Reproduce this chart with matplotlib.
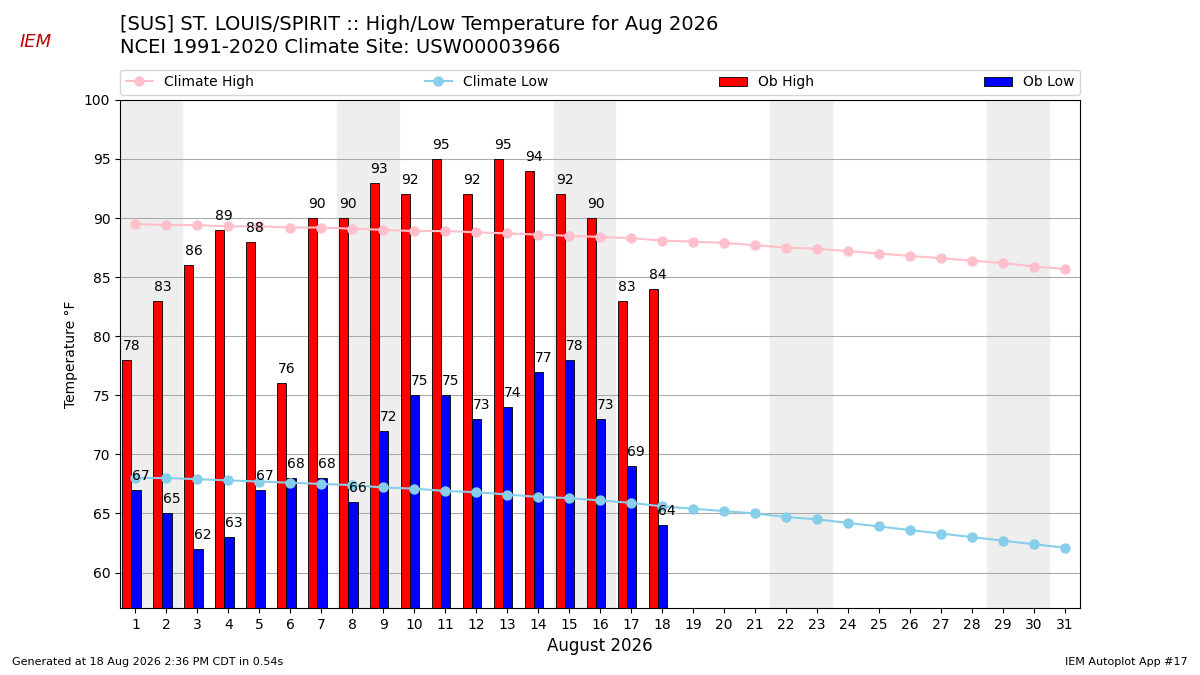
import matplotlib
matplotlib.use("Agg")
from matplotlib import pyplot as plt

days = list(range(1, 32))
ob_high = [78, 83, 86, 89, 88, 76, 90, 90, 93, 92, 95, 92, 95, 94, 92, 90, 83, 84]
ob_low = [67, 65, 62, 63, 67, 68, 68, 66, 72, 75, 75, 73, 74, 77, 78, 73, 69, 64]
clim_high = [89.5, 89.4, 89.4, 89.3, 89.3, 89.2, 89.2, 89.1, 89.0, 88.9, 88.9, 88.8,
             88.7, 88.6, 88.5, 88.4, 88.3, 88.1, 88.0, 87.9, 87.7, 87.5, 87.4, 87.2,
             87.0, 86.8, 86.6, 86.4, 86.2, 85.9, 85.7]
clim_low = [68.0, 68.0, 67.9, 67.8, 67.7, 67.6, 67.5, 67.4, 67.2, 67.1, 66.9, 66.8,
            66.6, 66.4, 66.3, 66.1, 65.9, 65.6, 65.4, 65.2, 65.0, 64.7, 64.5, 64.2,
            63.9, 63.6, 63.3, 63.0, 62.7, 62.4, 62.1]
weekends = [1, 8, 15, 22, 29]

fig = plt.figure(figsize=(12, 6.75), dpi=100)
ax = fig.add_axes([0.1, 0.0993, 0.8, 0.7527])

for d in weekends:
    ax.axvspan(d - 0.5, d + 1.5, color="#eeeeee", zorder=0)

obs_days = days[:len(ob_high)]
bh = ax.bar([d - 0.28 for d in obs_days], [h - 57 for h in ob_high], bottom=57, width=0.3,
            color="red", edgecolor="black", linewidth=0.6, label="Ob High", zorder=2)
bl = ax.bar([d + 0.02 for d in obs_days], [l - 57 for l in ob_low], bottom=57, width=0.3,
            color="blue", edgecolor="black", linewidth=0.6, label="Ob Low", zorder=2)

lh, = ax.plot(days, clim_high, "-o", color="pink", markersize=6.5, label="Climate High", zorder=3)
ll, = ax.plot(days, clim_low, "-o", color="skyblue", markersize=6.5, label="Climate Low", zorder=3)

for d, h, l in zip(obs_days, ob_high, ob_low):
    ax.text(d - 0.13, h + 0.6, str(h), ha="center", va="bottom", fontsize=10, zorder=4)
    ax.text(d + 0.17, l + 0.6, str(l), ha="center", va="bottom", fontsize=10, zorder=4)

ax.set_xlim(0.5, 31.5)
ax.set_ylim(57, 100)
ax.set_xticks(days)
ax.set_yticks(range(60, 101, 5))
ax.yaxis.grid(True, color="#aaaaaa")
ax.set_axisbelow(True)
ax.set_xlabel("August 2026", fontsize=12)
ax.set_ylabel("Temperature °F")

ax.legend([lh, ll, bh, bl], ["Climate High", "Climate Low", "Ob High", "Ob Low"],
          ncol=4, mode="expand", loc="lower left",
          bbox_to_anchor=(0, 1.01, 1, 0.05), borderaxespad=0)

fig.text(0.1, 0.964, "[SUS] ST. LOUIS/SPIRIT :: High/Low Temperature for Aug 2026", fontsize=14, va="center")
fig.text(0.1, 0.929, "NCEI 1991-2020 Climate Site: USW00003966", fontsize=14, va="center")
fig.text(0.01, 0.015, "Generated at 18 Aug 2026 2:36 PM CDT in 0.54s", fontsize=8)
fig.text(0.99, 0.015, "IEM Autoplot App #17", fontsize=8, ha="right")
fig.text(0.03, 0.93, "IEM", fontsize=13, color="#c00000", style="italic", ha="center")

fig.savefig("out.png")
